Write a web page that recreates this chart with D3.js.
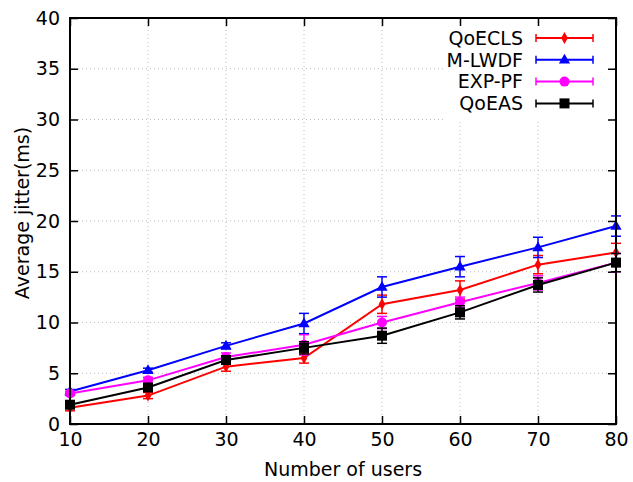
<!DOCTYPE html>
<html><head><meta charset="utf-8">
<script src="https://cdn.jsdelivr.net/npm/d3@7"></script>
<style>body{margin:0;background:#fff}svg{display:block}text{font-family:"DejaVu Sans",sans-serif}</style>
</head><body>
<svg id="c" width="633" height="482"></svg>
<script>
const users = [10, 20, 30, 40, 50, 60, 70, 80];
const yTicks = [0, 5, 10, 15, 20, 25, 30, 35, 40];
const seriesNames = ["QoECLS", "M-LWDF", "EXP-PF", "QoEAS"];
const qoecls = [1.6, 2.8, 5.65, 6.5, 11.8, 13.2, 15.7, 16.9];
const qoeclsErr = [0.3, 0.3, 0.45, 0.5, 0.9, 0.9, 0.9, 0.9];
const mlwdf = [3.2, 5.3, 7.7, 9.9, 13.5, 15.5, 17.4, 19.5];
const mlwdfErr = [0.2, 0.2, 0.3, 1.0, 1.0, 1.0, 1.0, 1.0];
const exppf = [3.0, 4.3, 6.6, 7.8, 10.0, 12.0, 13.9, 15.9];
const exppfErr = [0.2, 0.3, 0.4, 1.0, 0.6, 0.5, 0.7, 0.9];
const qoeas = [1.9, 3.6, 6.3, 7.5, 8.7, 11.0, 13.7, 15.9];
const qoeasErr = [0.3, 0.3, 0.4, 0.6, 0.75, 0.65, 0.7, 0.9];

const series = [
  {name: seriesNames[0], v: qoecls, e: qoeclsErr, color: "#ff0000", sym: "diamond"},
  {name: seriesNames[1], v: mlwdf, e: mlwdfErr, color: "#0000ff", sym: "triangle"},
  {name: seriesNames[2], v: exppf, e: exppfErr, color: "#ff00ff", sym: "circle"},
  {name: seriesNames[3], v: qoeas, e: qoeasErr, color: "#000000", sym: "square"}
];

const svg = d3.select("#c");
const L = 70, R = 616, T = 18, B = 424;
const x = d3.scaleLinear().domain([10, 80]).range([L, R]);
const y = d3.scaleLinear().domain([0, 40]).range([B, T]);
const fs = 19;

// grid
const g = svg.append("g");
g.selectAll(".gx").data(users).enter().append("line")
  .attr("x1", d => x(d)).attr("x2", d => x(d)).attr("y1", T).attr("y2", B)
  .attr("stroke", "#bbb").attr("stroke-width", 1).attr("stroke-dasharray", "1,3");
g.selectAll(".gy").data(yTicks).enter().append("line")
  .attr("x1", L).attr("x2", R).attr("y1", d => y(d)).attr("y2", d => y(d))
  .attr("stroke", "#bbb").attr("stroke-width", 1).attr("stroke-dasharray", "1,3");

// legend background
svg.append("rect").attr("x", 443).attr("y", 26).attr("width", 171).attr("height", 96).attr("fill", "#fff");

// axes with inner ticks (mirror)
const tl = 8;
const ax = svg.append("g");
const xb = ax.append("g").attr("transform", `translate(0,${B})`)
  .call(d3.axisBottom(x).tickValues(users).tickSize(-tl).tickPadding(9).tickFormat(d3.format("d")));
const xt = ax.append("g").attr("transform", `translate(0,${T})`)
  .call(d3.axisTop(x).tickValues(users).tickSize(-tl).tickFormat(""));
const yl = ax.append("g").attr("transform", `translate(${L},0)`)
  .call(d3.axisLeft(y).tickValues(yTicks).tickSize(-tl).tickPadding(10).tickFormat(d3.format("d")));
const yr = ax.append("g").attr("transform", `translate(${R},0)`)
  .call(d3.axisRight(y).tickValues(yTicks).tickSize(-tl).tickFormat(""));
[xb, xt, yl, yr].forEach(a => {
  a.select(".domain").remove();
  a.selectAll(".tick line").attr("stroke", "#000").attr("stroke-width", 1.5);
  a.selectAll("text").attr("fill", "#000").style("font-size", fs + "px").style("font-family", "DejaVu Sans");
});
xb.selectAll("text").attr("dy", "0.71em");

function sym(s, cx, cy, color) {
  const gg = svg.append("g");
  if (s === "circle") gg.append("circle").attr("cx", cx).attr("cy", cy).attr("r", 5).attr("fill", color);
  else if (s === "diamond") gg.append("path").attr("d", d3.symbol(d3.symbolDiamond, 40)()).attr("transform", `translate(${cx},${cy})`).attr("fill", color);
  else if (s === "triangle") gg.append("path").attr("d", d3.symbol(d3.symbolTriangle, 55)()).attr("transform", `translate(${cx},${cy+0.5})`).attr("fill", color);
  else gg.append("rect").attr("x", cx - 5).attr("y", cy - 5).attr("width", 10).attr("height", 10).attr("fill", color);
}

const line = d3.line().x((d, i) => x(users[i])).y(d => y(d));
const capW = 5;
series.forEach(s => {
  svg.append("path").datum(s.v).attr("d", line).attr("fill", "none")
    .attr("stroke", s.color).attr("stroke-width", 2);
  s.v.forEach((v, i) => {
    const cx = x(users[i]);
    const y1 = y(v - s.e[i]), y2 = y(v + s.e[i]);
    svg.append("line").attr("x1", cx).attr("x2", cx).attr("y1", y1).attr("y2", y2).attr("stroke", s.color).attr("stroke-width", 1.5);
    [y1, y2].forEach(yy => svg.append("line").attr("x1", cx - capW).attr("x2", cx + capW).attr("y1", yy).attr("y2", yy).attr("stroke", s.color).attr("stroke-width", 1.5));
  });
  s.v.forEach((v, i) => sym(s.sym, x(users[i]), y(v), s.color));
});

// frame
svg.append("rect").attr("x", L).attr("y", T).attr("width", R - L).attr("height", B - T)
  .attr("fill", "none").attr("stroke", "#000").attr("stroke-width", 2);

// legend
const ly0 = 38, ldy = 21.8;
series.forEach((s, i) => {
  const yy = ly0 + i * ldy;
  svg.append("text").attr("x", 523).attr("y", yy).attr("dy", "0.36em").attr("text-anchor", "end")
    .style("font-size", "19px").text(s.name);
  svg.append("line").attr("x1", 536).attr("x2", 593).attr("y1", yy).attr("y2", yy).attr("stroke", s.color).attr("stroke-width", 2);
  [536, 593].forEach(xx => svg.append("line").attr("x1", xx).attr("x2", xx).attr("y1", yy - 4).attr("y2", yy + 4).attr("stroke", s.color).attr("stroke-width", 1.5));
  sym(s.sym, 564.5, yy, s.color);
});

// axis titles
svg.append("text").attr("x", (L + R) / 2).attr("y", 476).attr("text-anchor", "middle")
  .style("font-size", fs + "px").text("Number of users");
svg.append("text").attr("transform", `translate(29,213) rotate(-90)`).attr("text-anchor", "middle")
  .style("font-size", fs + "px").text("Average jitter(ms)");
</script>
</body></html>
